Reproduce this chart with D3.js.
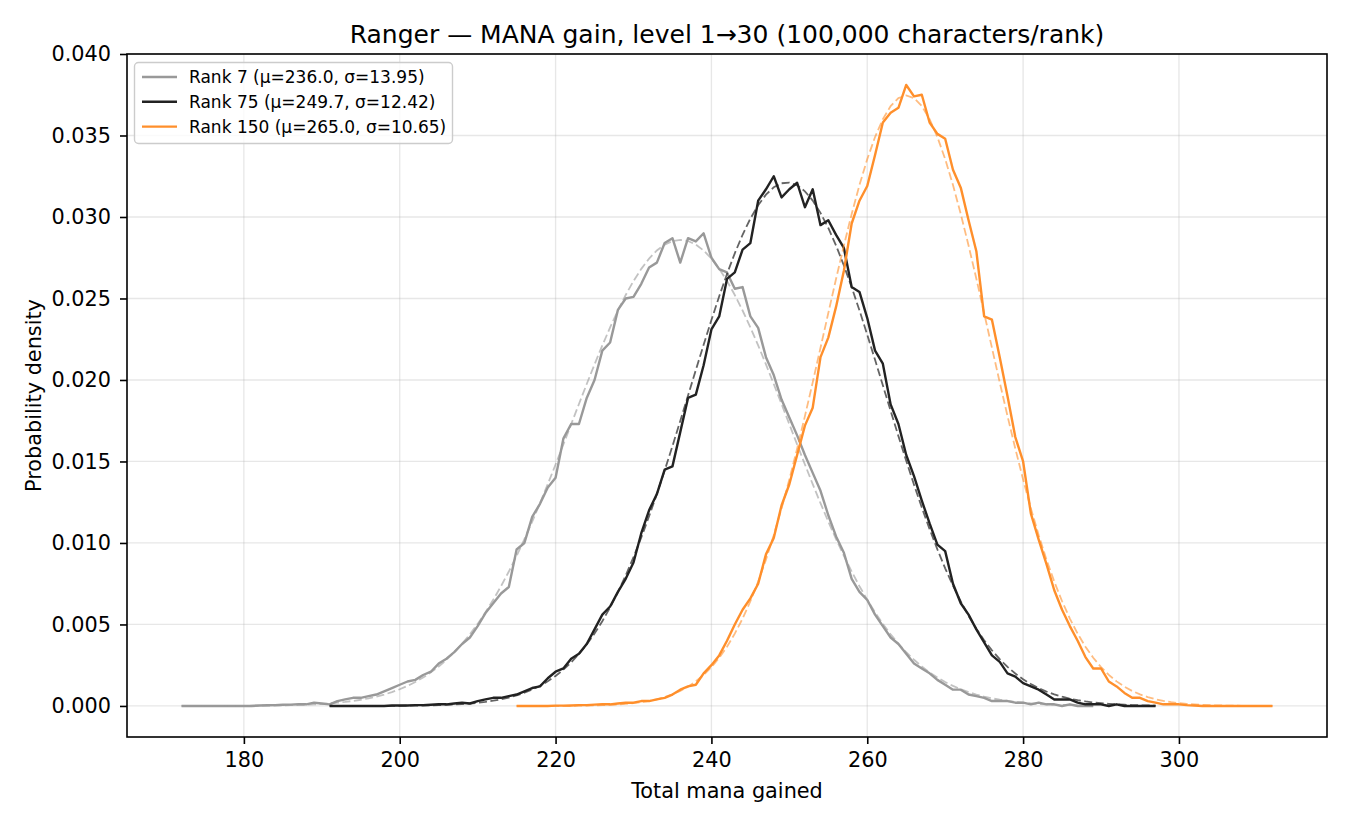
<!DOCTYPE html>
<html>
<head>
<meta charset="utf-8">
<script src="https://cdn.jsdelivr.net/npm/d3@7/dist/d3.min.js"></script>
<style>
  html, body { margin: 0; padding: 0; background: #fff; }
  svg { display: block; font-family: "DejaVu Sans", sans-serif; }
</style>
</head>
<body>
<svg id="chart" width="1350" height="825"></svg>
<script>
// ---- data ----
const seriesNames = ["Rank 7", "Rank 75", "Rank 150"];
const seriesMu = [236.0, 249.7, 265.0];
const seriesSigma = [13.95, 12.42, 10.65];
const seriesStart = [172, 191, 215];

const rank7Values = [
  0,0,0,0,0,0,0,0,0,0,
  0.00003,0.00004,0.00005,0.00007,0.00008,0.0001,0.0001,0.0002,0.00015,0.0001,
  0.0003,0.0004,0.0005,0.0005,0.0006,0.0007,0.0009,0.0011,0.0013,0.0015,
  0.0016,0.0019,0.0021,0.0026,0.0029,0.0033,0.0038,0.0042,0.0049,0.0057,
  0.0063,0.0069,0.0073,0.0096,0.0100,0.0116,0.0124,0.0134,0.0140,0.0164,
  0.0173,0.0173,0.0189,0.0200,0.0218,0.0223,0.0243,0.0250,0.0251,0.0259,
  0.0269,0.0272,0.0284,0.0287,0.0272,0.0287,0.0285,0.0290,0.0275,0.0268,
  0.0266,0.0256,0.0257,0.0239,0.0232,0.0214,0.0203,0.0188,0.0177,0.0166,
  0.0154,0.0143,0.0132,0.0117,0.0104,0.0094,0.0078,0.0070,0.0065,0.0056,
  0.0049,0.0042,0.0038,0.0032,0.0026,0.0023,0.0020,0.0016,0.0013,0.0010,
  0.0010,0.0007,0.0006,0.0005,0.0003,0.0003,0.0003,0.0002,0.0002,0.0001,
  0.0002,0.0001,0.0001,0.0000,0.0001,0.0000,0.0000,0.0000
];
const rank75Values = [
  0,0,0,0,0,0,0,0,0.00003,0.00003,
  0.00003,0.00005,0.00005,0.00007,0.0001,0.0001,0.00015,0.0002,0.00015,0.0003,
  0.0004,0.0005,0.0005,0.0006,0.0007,0.0009,0.0011,0.0012,0.0017,0.0021,
  0.0023,0.0029,0.0032,0.0038,0.0047,0.0056,0.0061,0.0070,0.0078,0.0088,
  0.0106,0.0120,0.0130,0.0145,0.0147,0.0168,0.0189,0.0191,0.0209,0.0231,
  0.0239,0.0262,0.0266,0.0280,0.0284,0.0310,0.0317,0.0325,0.0312,0.0317,
  0.0321,0.0306,0.0317,0.0295,0.0298,0.0289,0.0281,0.0257,0.0254,0.0238,
  0.0218,0.0210,0.0185,0.0173,0.0154,0.0141,0.0126,0.0112,0.0099,0.0095,
  0.0075,0.0063,0.0056,0.0047,0.0039,0.0031,0.0027,0.0020,0.0018,0.0014,
  0.0012,0.0010,0.0007,0.0004,0.0004,0.0004,0.0002,0.0001,0.0001,0.0001,
  0.0000,0.0001,0.0000,0,0,0,0
];
const rank150Values = [
  0,0,0,0,0,0.00002,0.00002,0.00003,0.00005,0.00005,
  0.00008,0.0001,0.0001,0.00015,0.0002,0.0002,0.0003,0.0003,0.0004,0.0005,
  0.0007,0.0010,0.0012,0.0013,0.0020,0.0025,0.0031,0.0040,0.0050,0.0059,
  0.0066,0.0075,0.0093,0.0103,0.0123,0.0136,0.0154,0.0172,0.0183,0.0214,
  0.0226,0.0245,0.0267,0.0296,0.0310,0.0319,0.0338,0.0358,0.0364,0.0367,
  0.0381,0.0374,0.0375,0.0358,0.0351,0.0348,0.0329,0.0318,0.0298,0.0279,
  0.0239,0.0237,0.0214,0.0190,0.0165,0.0150,0.0118,0.0102,0.0087,0.0071,
  0.0059,0.0049,0.0040,0.0030,0.0023,0.0023,0.0015,0.0012,0.0008,0.0005,
  0.0005,0.0003,0.0002,0.0001,0.0001,0.0001,0.00005,0.00003,0,0,
  0,0,0,0,0,0,0,0
];
const seriesValues = [rank7Values, rank75Values, rank150Values];

const xTicks = [180, 200, 220, 240, 260, 280, 300];
const yTicks = [0, 0.005, 0.010, 0.015, 0.020, 0.025, 0.030, 0.035, 0.040];

const titleText = "Ranger \u2014 MANA gain, level 1\u219230 (100,000 characters/rank)";
const xLabelText = "Total mana gained";
const yLabelText = "Probability density";

// ---- style ----
const colors = ["#999999", "#222222", "#ff8f2b"];
const fitOpacity = [0.6, 0.7, 0.6];
const tickFont = 20.8, labelFont = 20.8, titleFont = 25, legendFont = 17;

const M = { left: 127, right: 1327, top: 54, bottom: 737 };

const svg = d3.select("#chart");

const series = seriesValues.map((vals, k) => ({
  name: seriesNames[k], mu: seriesMu[k], sigma: seriesSigma[k],
  pts: vals.map((v, i) => ({ x: seriesStart[k] + i, y: v }))
}));

const allX = series.flatMap(s => s.pts.map(p => p.x));
const allY = series.flatMap(s => s.pts.map(p => p.y));
const xmin = d3.min(allX), xmax = d3.max(allX);
const ymin = 0, ymax = d3.max(allY);
const xpad = (xmax - xmin) * 0.05, ypad = (ymax - ymin) * 0.05;

const x = d3.scaleLinear().domain([xmin - xpad, xmax + xpad]).range([M.left, M.right]);
const y = d3.scaleLinear().domain([ymin - ypad, 0.040]).range([M.bottom, M.top]);

// grid
const grid = svg.append("g");
grid.selectAll(".gx").data(xTicks).join("line")
  .attr("x1", d => x(d)).attr("x2", d => x(d))
  .attr("y1", M.top).attr("y2", M.bottom)
  .attr("stroke", "#b0b0b0").attr("stroke-opacity", 0.3).attr("stroke-width", 1.3);
grid.selectAll(".gy").data(yTicks).join("line")
  .attr("x1", M.left).attr("x2", M.right)
  .attr("y1", d => y(d)).attr("y2", d => y(d))
  .attr("stroke", "#b0b0b0").attr("stroke-opacity", 0.3).attr("stroke-width", 1.3);

// clip
svg.append("clipPath").attr("id", "clip").append("rect")
  .attr("x", M.left).attr("y", M.top).attr("width", M.right - M.left).attr("height", M.bottom - M.top);

const line = d3.line().x(d => x(d.x)).y(d => y(d.y));
const plot = svg.append("g").attr("clip-path", "url(#clip)");

function normPdf(v, mu, s) {
  return Math.exp(-0.5 * ((v - mu) / s) ** 2) / (s * Math.sqrt(2 * Math.PI));
}

series.forEach((s, k) => {
  plot.append("path").datum(s.pts)
    .attr("d", line).attr("fill", "none")
    .attr("stroke", colors[k]).attr("stroke-width", 2.4)
    .attr("stroke-linejoin", "round").attr("stroke-linecap", "butt");
  const fit = s.pts.map(p => ({ x: p.x, y: normPdf(p.x, s.mu, s.sigma) }));
  plot.append("path").datum(fit)
    .attr("d", line).attr("fill", "none")
    .attr("stroke", colors[k]).attr("stroke-opacity", fitOpacity[k])
    .attr("stroke-width", 1.8).attr("stroke-dasharray", "8,3.5");
});

// spines
svg.append("rect").attr("x", M.left).attr("y", M.top)
  .attr("width", M.right - M.left).attr("height", M.bottom - M.top)
  .attr("fill", "none").attr("stroke", "#000").attr("stroke-width", 1.6);

// axes
const xAxis = d3.axisBottom(x).tickValues(xTicks).tickFormat(d3.format("d")).tickSize(7).tickPadding(8);
const gx = svg.append("g").attr("transform", `translate(0,${M.bottom})`).call(xAxis);
gx.select(".domain").remove();
gx.selectAll("line").attr("stroke", "#000").attr("stroke-width", 1.6);
gx.selectAll("text").attr("font-size", tickFont).attr("fill", "#000")
  .attr("font-family", "DejaVu Sans");

const yAxis = d3.axisLeft(y).tickValues(yTicks).tickFormat(d3.format(".3f")).tickSize(7).tickPadding(9);
const gy = svg.append("g").attr("transform", `translate(${M.left},0)`).call(yAxis);
gy.select(".domain").remove();
gy.selectAll("line").attr("stroke", "#000").attr("stroke-width", 1.6);
gy.selectAll("text").attr("font-size", tickFont).attr("fill", "#000")
  .attr("font-family", "DejaVu Sans");

// title and labels
svg.append("text").attr("x", (M.left + M.right) / 2).attr("y", 43)
  .attr("text-anchor", "middle").attr("font-size", titleFont).attr("fill", "#000").text(titleText);
svg.append("text").attr("x", (M.left + M.right) / 2).attr("y", 798)
  .attr("text-anchor", "middle").attr("font-size", labelFont).attr("fill", "#000").text(xLabelText);
svg.append("text").attr("transform", `translate(41,${(M.top + M.bottom) / 2}) rotate(-90)`)
  .attr("text-anchor", "middle").attr("font-size", labelFont).attr("fill", "#000").text(yLabelText);

// legend
const lg = svg.append("g");
lg.append("rect").attr("x", 134.5).attr("y", 62.5).attr("width", 318).attr("height", 81)
  .attr("rx", 4).attr("fill", "#fff").attr("fill-opacity", 0.8)
  .attr("stroke", "#cccccc").attr("stroke-width", 1.4);
series.forEach((s, k) => {
  const ry = 77 + k * 24.8;
  lg.append("line").attr("x1", 142).attr("x2", 177).attr("y1", ry).attr("y2", ry)
    .attr("stroke", colors[k]).attr("stroke-width", 2.4);
  lg.append("text").attr("x", 189).attr("y", ry).attr("dy", "0.36em")
    .attr("font-size", legendFont).attr("fill", "#000")
    .text(`${s.name} (\u03bc=${s.mu.toFixed(1)}, \u03c3=${s.sigma.toFixed(2)})`);
});
</script>
</body>
</html>
